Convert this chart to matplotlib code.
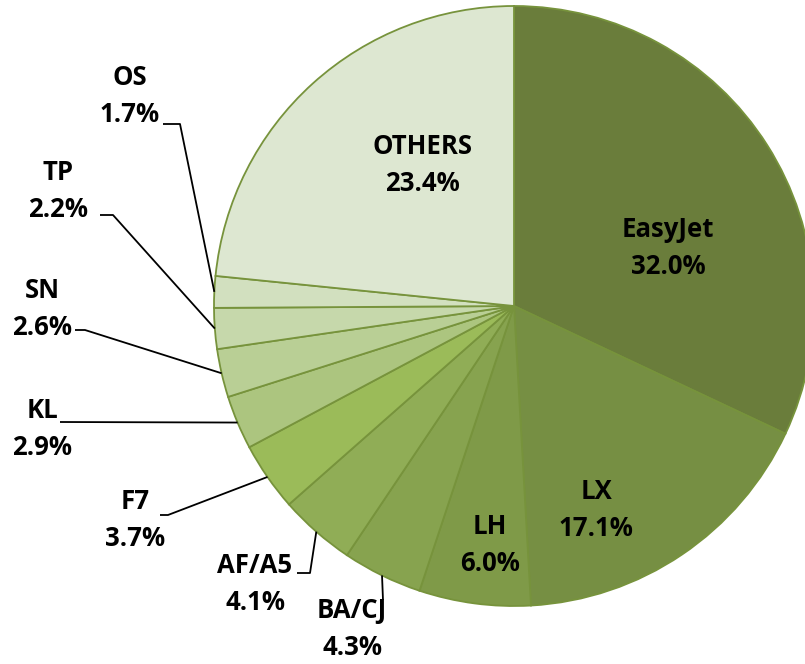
import numpy as np
import matplotlib
matplotlib.use("Agg")
import matplotlib.pyplot as plt

labels = ["EasyJet", "LX", "LH", "BA/CJ", "AF/A5", "F7", "KL", "SN", "TP", "OS", "OTHERS"]
values = [32.0, 17.1, 6.0, 4.3, 4.1, 3.7, 2.9, 2.6, 2.2, 1.7, 23.4]
colors = ["#6a7d3b", "#768f43", "#7f9a48", "#87a34f", "#90ad56", "#9bbb59",
          "#acc57f", "#b9cf95", "#c6d8ab", "#d2e0bf", "#dde7d1"]

W, H = 805, 664
fig = plt.figure(figsize=(W / 100, H / 100), dpi=100)
ax = fig.add_axes([0, 0, 1, 1])

cx, cy, R = 514, H - 306, 300
wedges, _ = ax.pie(values, colors=colors, startangle=90, counterclock=False,
                   center=(cx, cy), radius=R, frame=True,
                   wedgeprops=dict(edgecolor="#77933c", linewidth=1.3))
ax.set_xlim(0, W)
ax.set_ylim(0, H)
ax.set_aspect("equal")
ax.axis("off")

font = dict(family=["Open Sans", "DejaVu Sans"], fontweight="bold", fontsize=18.5, color="black")

# inside labels (pixel positions of text centres)
inside = {"EasyJet": (668, 248), "LX": (596, 510), "LH": (490, 545), "OTHERS": (422, 165)}
# outside labels: text centre, elbow points before the wedge edge
outside = {
    "OS": ((130, 96), [(163, 124), (180, 124)]),
    "TP": ((58, 191), [(100, 215), (113, 215)]),
    "SN": ((42, 309), [(75, 330), (85, 330)]),
    "KL": ((42, 429), [(60, 422)]),
    "F7": ((135, 520), [(160, 515), (168, 515)]),
    "AF/A5": ((255, 584), [(297, 573), (310, 573)]),
    "BA/CJ": ((352, 629), [(383, 600)]),
}

for lab, val, w in zip(labels, values, wedges):
    txt = f"{lab}\n{val:.1f}%"
    if lab in inside:
        x, y = inside[lab]
        ax.text(x, H - y, txt, ha="center", va="center", linespacing=1.52, **font)
    else:
        (x, y), pts = outside[lab]
        ax.text(x, H - y, txt, ha="center", va="center", linespacing=1.52, **font)
        mid = np.deg2rad((w.theta1 + w.theta2) / 2)
        ex, ey = cx + R * np.cos(mid), cy + R * np.sin(mid)
        xs = [p[0] for p in pts] + [ex]
        ys = [H - p[1] for p in pts] + [ey]
        ax.plot(xs, ys, color="black", linewidth=1.3, solid_capstyle="butt")

fig.savefig("out.png", dpi=100)
